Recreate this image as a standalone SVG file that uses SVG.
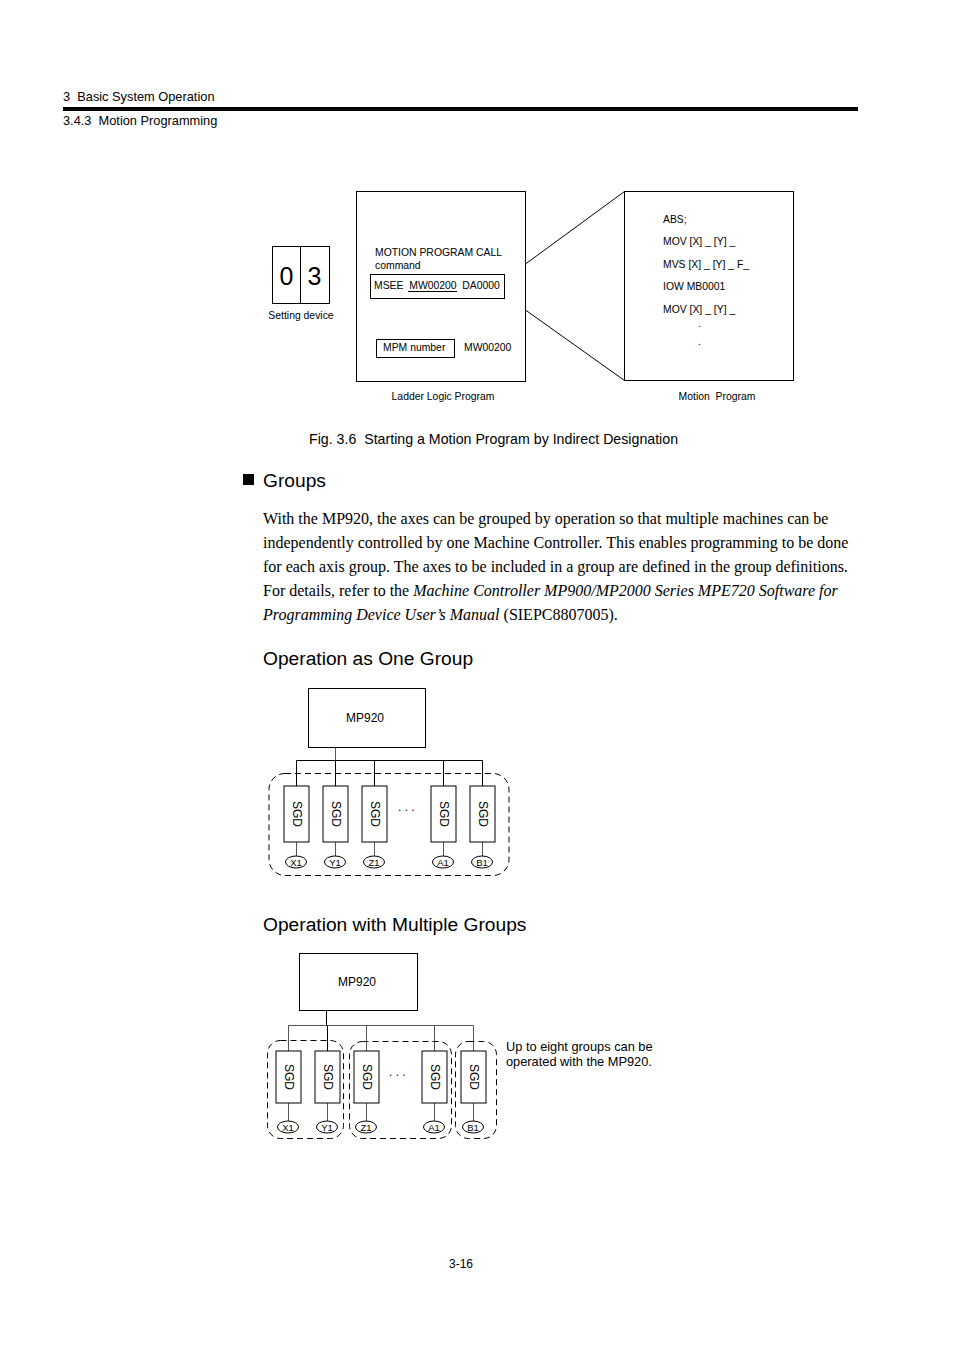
<svg xmlns="http://www.w3.org/2000/svg" width="954" height="1351" viewBox="0 0 954 1351" xml:space="preserve">
<style>
text{font-family:"Liberation Sans",Arial,sans-serif;fill:#000;white-space:pre}
.s10{font-size:10.4px}
.h19{font-size:19.2px}
.serif{font-family:"Liberation Serif","Times New Roman",serif;font-size:16px}
.box{fill:#fff;stroke:#000;stroke-width:1}
.ln{fill:none;stroke:#000;stroke-width:1}
.gl{fill:none;stroke:#555;stroke-width:1}
.dash{fill:none;stroke:#000;stroke-width:1;stroke-dasharray:6,4}
.ell{fill:#fff;stroke:#000;stroke-width:1}
.sgd{font-size:12px}
.ax{font-size:9.5px;text-anchor:middle}
</style>
<g id="header">
<text x="63" y="101" style="font-size:12.8px">3  Basic System Operation</text>
<rect x="63" y="107" width="795" height="4" fill="#000"/>
<text x="63" y="125" style="font-size:12.8px">3.4.3  Motion Programming</text>
</g>
<g id="setting-device">
<rect class="box" x="272.5" y="246.5" width="57" height="57"/>
<line class="ln" x1="300.5" y1="246.5" x2="300.5" y2="303.5"/>
<text x="286.5" y="285" style="font-size:25px" text-anchor="middle">0</text>
<text x="314.5" y="285" style="font-size:25px" text-anchor="middle">3</text>
<text class="s10" x="301" y="319" text-anchor="middle">Setting device</text>
</g>
<g id="ladder-logic">
<rect class="box" x="356.5" y="191.5" width="169" height="190"/>
<text class="s10" x="375" y="256">MOTION PROGRAM CALL</text>
<text class="s10" x="375" y="269">command</text>
<rect class="box" x="370.5" y="274.5" width="134" height="24"/>
<text class="s10" x="374" y="289">MSEE  MW00200  DA0000</text>
<line class="ln" x1="408" y1="291.5" x2="457" y2="291.5"/>
<rect class="box" x="376.5" y="339.5" width="78" height="18"/>
<text class="s10" x="383" y="350.5">MPM number</text>
<text class="s10" x="464" y="350.5">MW00200</text>
<text class="s10" x="443" y="400" text-anchor="middle">Ladder Logic Program</text>
</g>
<g id="motion-program">
<rect class="box" x="624.5" y="191.5" width="169" height="189"/>
<text class="s10" x="663" y="223">ABS;</text>
<text class="s10" x="663" y="245">MOV [X] _ [Y] _</text>
<text class="s10" x="663" y="268">MVS [X] _ [Y] _ F_</text>
<text class="s10" x="663" y="290">IOW MB0001</text>
<text class="s10" x="663" y="313">MOV [X] _ [Y] _</text>
<text class="s10" x="698" y="327">.</text>
<text class="s10" x="698" y="345">.</text>
<text class="s10" x="717" y="400" text-anchor="middle">Motion  Program</text>
</g>
<g id="connectors-fig36">
<line class="ln" x1="525.5" y1="264" x2="624.5" y2="191.5"/>
<line class="ln" x1="525.5" y1="310" x2="624.5" y2="380.5"/>
</g>
<text x="309" y="443.5" style="font-size:14.2px">Fig. 3.6  Starting a Motion Program by Indirect Designation</text>
<g id="groups-heading">
<rect x="243" y="474" width="11" height="11" fill="#000"/>
<text class="h19" x="263" y="486.5">Groups</text>
</g>
<g id="paragraph">
<text class="serif" x="263" y="524">With the MP920, the axes can be grouped by operation so that multiple machines can be</text>
<text class="serif" x="263" y="548">independently controlled by one Machine Controller. This enables programming to be done</text>
<text class="serif" x="263" y="572">for each axis group. The axes to be included in a group are defined in the group definitions.</text>
<text class="serif" x="263" y="596">For details, refer to the <tspan font-style="italic">Machine Controller MP900/MP2000 Series MPE720 Software for</tspan></text>
<text class="serif" x="263" y="620"><tspan font-style="italic">Programming Device User’s Manual</tspan> (SIEPC8807005).</text>
</g>
<text class="h19" x="263" y="665">Operation as One Group</text>
<g id="mp920-a">
<rect class="box" x="308.5" y="688.5" width="117" height="59"/>
<text x="365" y="722" text-anchor="middle" style="font-size:12px">MP920</text>
</g>
<g id="connectors-a">
<line class="gl" x1="335.5" y1="747.5" x2="335.5" y2="760.5"/>
<polyline class="ln" points="296.5,786 296.5,760.5 482.5,760.5 482.5,786"/>
<line class="ln" x1="335.5" y1="760.5" x2="335.5" y2="786"/>
<line class="ln" x1="374.5" y1="760.5" x2="374.5" y2="786"/>
<line class="ln" x1="443.5" y1="760.5" x2="443.5" y2="786"/>
<line class="gl" x1="296.5" y1="842" x2="296.5" y2="856"/>
<line class="gl" x1="335.5" y1="842" x2="335.5" y2="856"/>
<line class="gl" x1="374.5" y1="842" x2="374.5" y2="856"/>
<line class="gl" x1="443.5" y1="842" x2="443.5" y2="856"/>
<line class="gl" x1="482.5" y1="842" x2="482.5" y2="856"/>
</g>
<rect id="group-a" class="dash" x="269" y="773.5" width="240" height="102" rx="16"/>
<g id="sgd-a1"><rect class="box" x="284" y="786" width="25" height="56"/><text class="sgd" transform="translate(292.5,814) rotate(90)" text-anchor="middle">SGD</text></g>
<g id="sgd-a2"><rect class="box" x="323" y="786" width="25" height="56"/><text class="sgd" transform="translate(331.5,814) rotate(90)" text-anchor="middle">SGD</text></g>
<g id="sgd-a3"><rect class="box" x="362" y="786" width="25" height="56"/><text class="sgd" transform="translate(370.5,814) rotate(90)" text-anchor="middle">SGD</text></g>
<g id="sgd-a4"><rect class="box" x="431" y="786" width="25" height="56"/><text class="sgd" transform="translate(439.5,814) rotate(90)" text-anchor="middle">SGD</text></g>
<g id="sgd-a5"><rect class="box" x="470" y="786" width="25" height="56"/><text class="sgd" transform="translate(478.5,814) rotate(90)" text-anchor="middle">SGD</text></g>
<text x="398" y="811" style="font-size:12px">. . .</text>
<g id="ax-a1"><ellipse class="ell" cx="296" cy="862" rx="10.5" ry="6"/><text class="ax" x="296" y="865.5">X1</text></g>
<g id="ax-a2"><ellipse class="ell" cx="335" cy="862" rx="10.5" ry="6"/><text class="ax" x="335" y="865.5">Y1</text></g>
<g id="ax-a3"><ellipse class="ell" cx="374" cy="862" rx="10.5" ry="6"/><text class="ax" x="374" y="865.5">Z1</text></g>
<g id="ax-a4"><ellipse class="ell" cx="443" cy="862" rx="10.5" ry="6"/><text class="ax" x="443" y="865.5">A1</text></g>
<g id="ax-a5"><ellipse class="ell" cx="482" cy="862" rx="10.5" ry="6"/><text class="ax" x="482" y="865.5">B1</text></g>
<text class="h19" x="263" y="931">Operation with Multiple Groups</text>
<g id="mp920-b">
<rect class="box" x="299.5" y="953.5" width="118" height="57"/>
<text x="357" y="986" text-anchor="middle" style="font-size:12px">MP920</text>
</g>
<g id="connectors-b">
<line class="ln" x1="326.5" y1="1010.5" x2="326.5" y2="1025.5"/>
<polyline class="gl" points="288.5,1051 288.5,1025.5 473.5,1025.5 473.5,1051"/>
<line class="ln" x1="327.5" y1="1025.5" x2="327.5" y2="1051"/>
<line class="gl" x1="366.5" y1="1025.5" x2="366.5" y2="1051"/>
<line class="gl" x1="434.5" y1="1025.5" x2="434.5" y2="1051"/>
<line class="gl" x1="288.5" y1="1103" x2="288.5" y2="1121"/>
<line class="gl" x1="327.5" y1="1103" x2="327.5" y2="1121"/>
<line class="gl" x1="366.5" y1="1103" x2="366.5" y2="1121"/>
<line class="gl" x1="434.5" y1="1103" x2="434.5" y2="1121"/>
<line class="gl" x1="473.5" y1="1103" x2="473.5" y2="1121"/>
</g>
<rect id="group-b1" class="dash" x="267.5" y="1040.5" width="76" height="98" rx="13"/>
<rect id="group-b2" class="dash" x="349.5" y="1041.5" width="102" height="97" rx="13"/>
<rect id="group-b3" class="dash" x="455.5" y="1041.5" width="41" height="97" rx="13"/>
<g id="sgd-b1"><rect class="box" x="276" y="1051" width="25" height="52"/><text class="sgd" transform="translate(284.5,1077) rotate(90)" text-anchor="middle">SGD</text></g>
<g id="sgd-b2"><rect class="box" x="315" y="1051" width="25" height="52"/><text class="sgd" transform="translate(323.5,1077) rotate(90)" text-anchor="middle">SGD</text></g>
<g id="sgd-b3"><rect class="box" x="354" y="1051" width="25" height="52"/><text class="sgd" transform="translate(362.5,1077) rotate(90)" text-anchor="middle">SGD</text></g>
<g id="sgd-b4"><rect class="box" x="422" y="1051" width="25" height="52"/><text class="sgd" transform="translate(430.5,1077) rotate(90)" text-anchor="middle">SGD</text></g>
<g id="sgd-b5"><rect class="box" x="461" y="1051" width="25" height="52"/><text class="sgd" transform="translate(469.5,1077) rotate(90)" text-anchor="middle">SGD</text></g>
<text x="389" y="1076" style="font-size:12px">. . .</text>
<g id="ax-b1"><ellipse class="ell" cx="288" cy="1127" rx="10.5" ry="6"/><text class="ax" x="288" y="1130.5">X1</text></g>
<g id="ax-b2"><ellipse class="ell" cx="327" cy="1127" rx="10.5" ry="6"/><text class="ax" x="327" y="1130.5">Y1</text></g>
<g id="ax-b3"><ellipse class="ell" cx="366" cy="1127" rx="10.5" ry="6"/><text class="ax" x="366" y="1130.5">Z1</text></g>
<g id="ax-b4"><ellipse class="ell" cx="434" cy="1127" rx="10.5" ry="6"/><text class="ax" x="434" y="1130.5">A1</text></g>
<g id="ax-b5"><ellipse class="ell" cx="473" cy="1127" rx="10.5" ry="6"/><text class="ax" x="473" y="1130.5">B1</text></g>
<g id="note">
<text x="506" y="1051" style="font-size:12.8px">Up to eight groups can be</text>
<text x="506" y="1066" style="font-size:12.8px">operated with the MP920.</text>
</g>
<text x="461" y="1268" text-anchor="middle" style="font-size:12px">3-16</text>
</svg>
